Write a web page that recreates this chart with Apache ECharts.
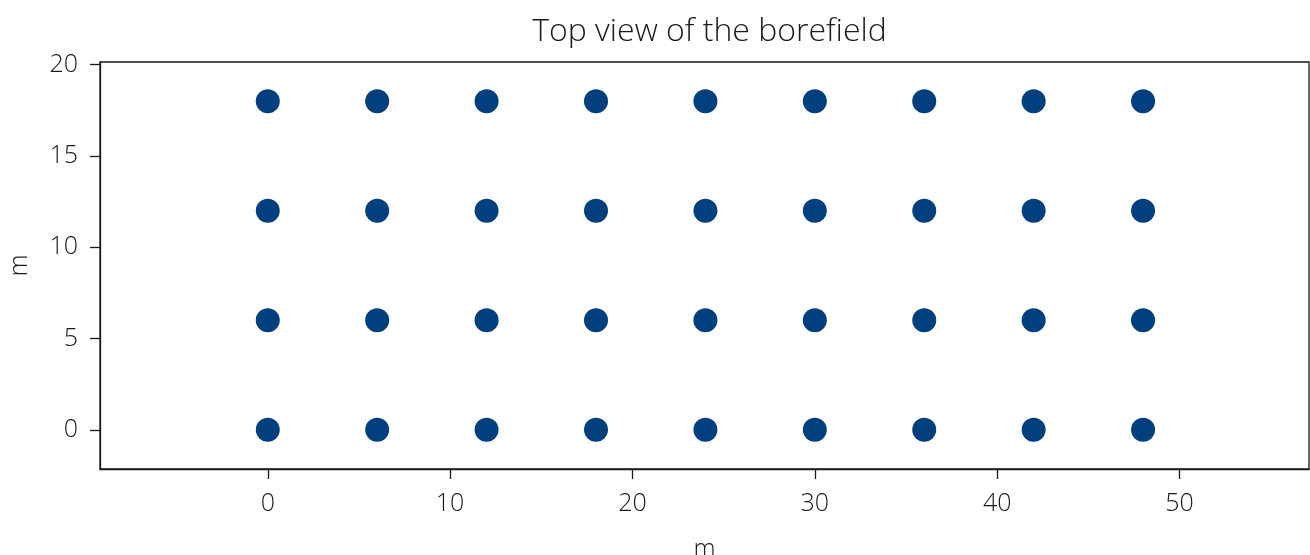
<!DOCTYPE html>
<html>
<head>
<meta charset="utf-8">
<script src="https://cdn.jsdelivr.net/npm/echarts@6/dist/echarts.min.js"></script>
<style>
  html, body { margin: 0; padding: 0; background: #fff; }
  #chart { width: 1310px; height: 555px; }
</style>
</head>
<body>
<div id="chart"></div>
<script>
// Borehole positions (m) on a regular grid
const boreX = [0, 6, 12, 18, 24, 30, 36, 42, 48];
const boreY = [0, 6, 12, 18];

// Axis tick labels
const xTicks = [0, 10, 20, 30, 40, 50];
const yTicks = [0, 5, 10, 15, 20];

const titleText = 'Top view of the borefield';
const xName = 'm';
const yName = 'm';

const points = [];
boreY.forEach(y => boreX.forEach(x => points.push([x, y])));

const FONT = "'Open Sans', 'Noto Sans', sans-serif";
const INK = '#1a1a1a';

// Plot box in pixels; the title is centred over it
const GRID = { left: 100, right: 1, top: 62, bottom: 86 };
const plotCenterX = GRID.left + (1310 - GRID.left - GRID.right) / 2;

const chart = echarts.init(document.getElementById('chart'), null, { renderer: 'canvas' });
chart.setOption({
  animation: false,
  backgroundColor: '#ffffff',
  title: {
    text: titleText,
    left: plotCenterX,
    textAlign: 'center',
    top: 11,
    textStyle: { fontFamily: FONT, fontWeight: 300, fontSize: 32, color: INK }
  },
  grid: {
    left: GRID.left, right: GRID.right, top: GRID.top, bottom: GRID.bottom,
    outerBoundsMode: 'none',
    containLabel: false,
    show: true, borderColor: INK, borderWidth: 1.3, backgroundColor: 'transparent'
  },
  xAxis: {
    type: 'value',
    min: -9.2, max: 57.1,
    name: xName,
    nameLocation: 'middle',
    nameGap: 68,
    nameTextStyle: { fontFamily: FONT, fontWeight: 300, fontSize: 25, color: INK },
    splitLine: { show: false },
    axisLine: { show: true, onZero: false, lineStyle: { color: INK, width: 1.3 } },
    axisTick: { show: true, length: 10, customValues: xTicks, lineStyle: { color: INK, width: 1.3 } },
    axisLabel: { customValues: xTicks, margin: 22, fontFamily: FONT, fontWeight: 300, fontSize: 25, color: INK }
  },
  yAxis: {
    type: 'value',
    min: -2.15, max: 20.15,
    name: yName,
    nameLocation: 'middle',
    nameGap: 68,
    nameTextStyle: { fontFamily: FONT, fontWeight: 300, fontSize: 25, color: INK },
    splitLine: { show: false },
    axisLine: { show: true, onZero: false, lineStyle: { color: INK, width: 1.3 } },
    axisTick: { show: true, length: 10, customValues: yTicks, lineStyle: { color: INK, width: 1.3 } },
    axisLabel: { customValues: yTicks, margin: 22, fontFamily: FONT, fontWeight: 300, fontSize: 25, color: INK }
  },
  series: [{
    type: 'scatter',
    data: points,
    symbol: 'circle',
    symbolSize: 24,
    itemStyle: { color: '#003f7d', opacity: 1 }
  }]
});
</script>
</body>
</html>
